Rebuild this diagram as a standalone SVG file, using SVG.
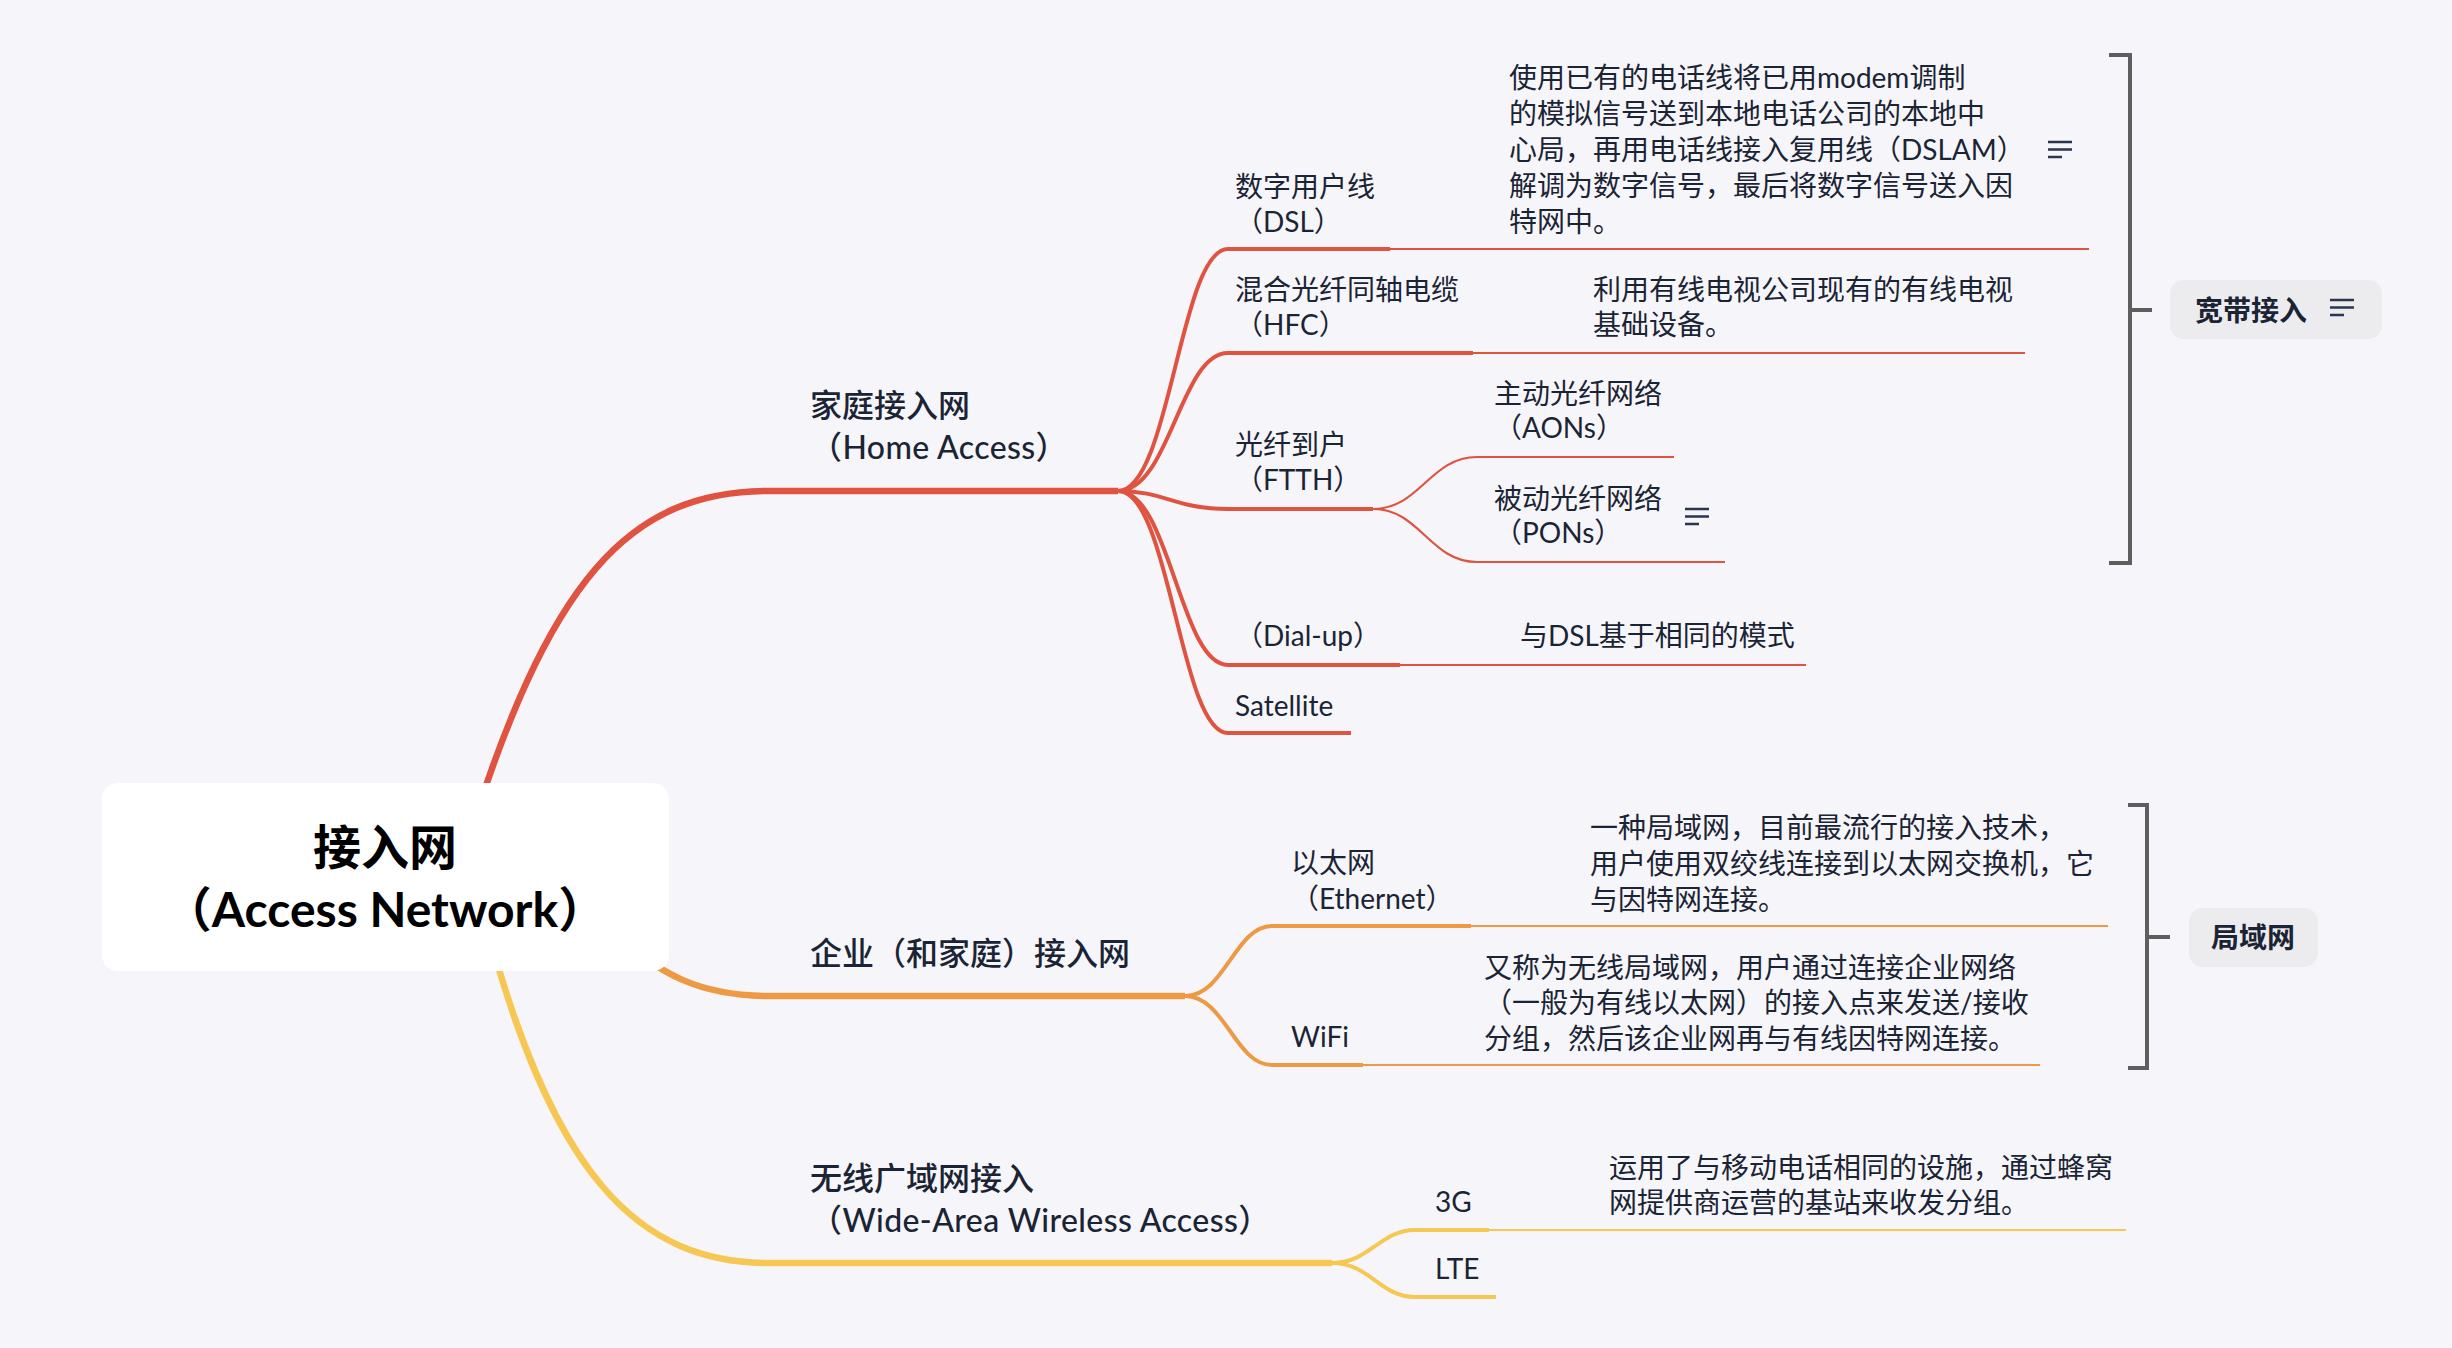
<svg xmlns="http://www.w3.org/2000/svg" width="2452" height="1348" viewBox="0 0 2452 1348">
<style>
.t{font-family:"Lato","Noto Sans CJK SC",sans-serif;fill:#1b2435}
.s28{font-size:28px}
.s32{font-size:32px;font-weight:500}
.b{font-weight:700}
.ttl{font-family:"Lato","Noto Sans CJK SC",sans-serif;font-size:48px;font-weight:700;fill:#000;text-anchor:middle}
.r{stroke:#E05340;fill:none;stroke-linecap:butt}
.o{stroke:#EE9944;fill:none}
.y{stroke:#F6C752;fill:none}
.m{stroke-width:6.5}
.k{stroke-width:4}
.n{stroke-width:2.2}
.br{stroke:#5e5e5e;stroke-width:4;fill:none}
.ic{stroke:#2a3550;stroke-width:2.6;fill:none}
.sum{fill:#ECECEF}
</style>
<rect width="2452" height="1348" fill="#F6F6FA"/>
<g id="connectors">
  <path class="r m" d="M462 860 C548 575,630 491,770 491 L1118 491"/>
  <path class="r k" d="M1118 491 C1170 491,1180 249,1228 249 L1390 249"/>
  <path class="r n" d="M1390 249 L2089 249"/>
  <path class="r k" d="M1118 491 C1170 491,1180 353,1228 353 L1473 353"/>
  <path class="r n" d="M1473 353 L2025 353"/>
  <path class="r k" d="M1118 491 C1165 491,1175 509,1228 509 L1373 509"/>
  <path class="r n" d="M1373 509 C1420 509,1430 457,1477 457 L1674 457"/>
  <path class="r n" d="M1373 509 C1420 509,1430 562,1477 562 L1725 562"/>
  <path class="r k" d="M1118 491 C1170 491,1180 665,1228 665 L1400 665"/>
  <path class="r n" d="M1400 665 L1806 665"/>
  <path class="r k" d="M1118 491 C1170 491,1180 733,1228 733 L1351 733"/>
  <path class="o m" d="M610 930 C660 975,700 996,770 996 L1185 996"/>
  <path class="o k" d="M1185 996 C1225 996,1235 926,1272 926 L1471 926"/>
  <path class="o n" d="M1471 926 L2108 926"/>
  <path class="o k" d="M1185 996 C1225 996,1235 1065,1272 1065 L1363 1065"/>
  <path class="o n" d="M1363 1065 L2040 1065"/>
  <path class="y m" d="M480 900 C550 1180,640 1263,770 1263 L1332 1263"/>
  <path class="y k" d="M1332 1263 C1370 1263,1380 1230,1415 1230 L1489 1230"/>
  <path class="y n" d="M1489 1230 L2126 1230"/>
  <path class="y k" d="M1332 1263 C1370 1263,1380 1297,1415 1297 L1496 1297"/>
  <path class="br" d="M2109 55 H2130 V563 H2109 M2130 310 H2152"/>
  <path class="br" d="M2128 805 H2147 V1068 H2128 M2147 937 H2170"/>
</g>
<g id="root">
  <rect x="102" y="783" width="567" height="188" rx="16" fill="#fff"/>
  <text class="ttl" x="385" y="865">接入网</text>
  <text class="ttl" x="385" y="927">（Access Network）</text>
</g>
<g id="home-access">
  <text class="t s32" x="810" y="417">家庭接入网</text>
  <text class="t s32" x="810" y="459" letter-spacing="0.4">（Home Access）</text>
</g>
<g id="dsl">
  <text class="t s28" x="1235" y="197">数字用户线</text>
  <text class="t s28" x="1235" y="232">（DSL）</text>
</g>
<g id="dsl-desc">
  <text class="t s28" x="1509" y="88">使用已有的电话线将已用modem调制</text>
  <text class="t s28" x="1509" y="124">的模拟信号送到本地电话公司的本地中</text>
  <text class="t s28" x="1509" y="160">心局，再用电话线接入复用线（DSLAM）</text>
  <text class="t s28" x="1509" y="196">解调为数字信号，最后将数字信号送入因</text>
  <text class="t s28" x="1509" y="232">特网中。</text>
  <path class="ic" d="M2048 142 H2072 M2048 149.5 H2072 M2048 157 H2062"/>
</g>
<g id="hfc">
  <text class="t s28" x="1235" y="300">混合光纤同轴电缆</text>
  <text class="t s28" x="1235" y="335">（HFC）</text>
</g>
<g id="hfc-desc">
  <text class="t s28" x="1593" y="300">利用有线电视公司现有的有线电视</text>
  <text class="t s28" x="1593" y="335">基础设备。</text>
</g>
<g id="ftth">
  <text class="t s28" x="1235" y="455">光纤到户</text>
  <text class="t s28" x="1235" y="490">（FTTH）</text>
</g>
<g id="aons">
  <text class="t s28" x="1494" y="404">主动光纤网络</text>
  <text class="t s28" x="1494" y="438">（AONs）</text>
</g>
<g id="pons">
  <text class="t s28" x="1494" y="509">被动光纤网络</text>
  <text class="t s28" x="1494" y="543">（PONs）</text>
  <path class="ic" d="M1685 509 H1709 M1685 516.5 H1709 M1685 524 H1699"/>
</g>
<g id="dialup">
  <text class="t s28" x="1235" y="646">（Dial-up）</text>
</g>
<g id="dialup-desc">
  <text class="t s28" x="1520" y="646">与DSL基于相同的模式</text>
</g>
<g id="satellite">
  <text class="t s28" x="1235" y="716">Satellite</text>
</g>
<g id="broadband">
  <rect class="sum" x="2170" y="280" width="212" height="59" rx="14"/>
  <text class="t s28 b" x="2195" y="321">宽带接入</text>
  <path class="ic" d="M2330 300 H2354 M2330 307.5 H2354 M2330 315 H2344"/>
</g>
<g id="enterprise">
  <text class="t s32" x="810" y="965">企业（和家庭）接入网</text>
</g>
<g id="ethernet">
  <text class="t s28" x="1291" y="873">以太网</text>
  <text class="t s28" x="1291" y="909">（Ethernet）</text>
</g>
<g id="ethernet-desc">
  <text class="t s28" x="1590" y="838">一种局域网，目前最流行的接入技术，</text>
  <text class="t s28" x="1590" y="874">用户使用双绞线连接到以太网交换机，它</text>
  <text class="t s28" x="1590" y="910">与因特网连接。</text>
</g>
<g id="wifi">
  <text class="t s28" x="1291" y="1047">WiFi</text>
</g>
<g id="wifi-desc">
  <text class="t s28" x="1484" y="978">又称为无线局域网，用户通过连接企业网络</text>
  <text class="t s28" x="1484" y="1013">（一般为有线以太网）的接入点来发送/接收</text>
  <text class="t s28" x="1484" y="1049">分组，然后该企业网再与有线因特网连接。</text>
</g>
<g id="lan">
  <rect class="sum" x="2189" y="908" width="129" height="59" rx="14"/>
  <text class="t s28 b" x="2211" y="948">局域网</text>
</g>
<g id="wireless-wan">
  <text class="t s32" x="810" y="1190">无线广域网接入</text>
  <text class="t s32" x="810" y="1232" letter-spacing="0.4">（Wide-Area Wireless Access）</text>
</g>
<g id="g3">
  <text class="t s28" x="1435" y="1212">3G</text>
</g>
<g id="g3-desc">
  <text class="t s28" x="1609" y="1178">运用了与移动电话相同的设施，通过蜂窝</text>
  <text class="t s28" x="1609" y="1213">网提供商运营的基站来收发分组。</text>
</g>
<g id="lte">
  <text class="t s28" x="1435" y="1279">LTE</text>
</g>
</svg>
